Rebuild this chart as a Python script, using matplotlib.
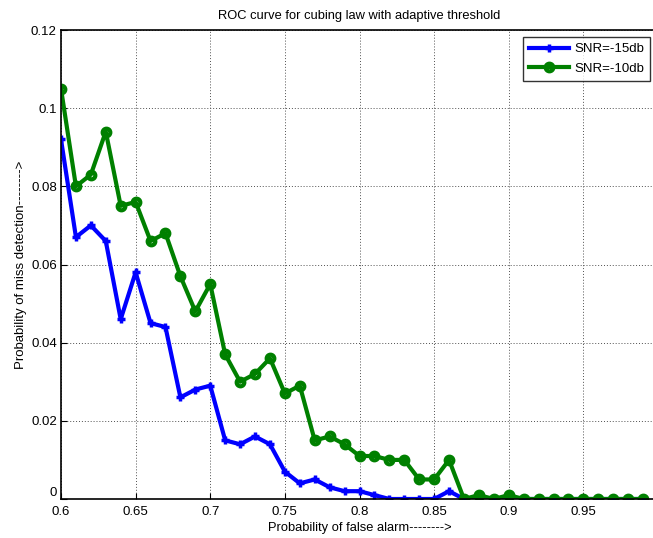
import numpy as np
import matplotlib
matplotlib.use('Agg')
import matplotlib.pyplot as plt

pfa = [round(0.60 + 0.01 * i, 2) for i in range(40)]

pm_15db = [0.092, 0.067, 0.070, 0.066, 0.046, 0.058, 0.045, 0.044, 0.026, 0.028,
           0.029, 0.015, 0.014, 0.016, 0.014, 0.007, 0.004, 0.005, 0.003, 0.002,
           0.002, 0.001, 0.000, 0.000, 0.000, 0.000, 0.002, 0.000, 0.000, 0.000,
           0.000, 0.000, 0.000, 0.000, 0.000, 0.000, 0.000, 0.000, 0.000, 0.000]

pm_10db = [0.105, 0.080, 0.083, 0.094, 0.075, 0.076, 0.066, 0.068, 0.057, 0.048,
           0.055, 0.037, 0.030, 0.032, 0.036, 0.027, 0.029, 0.015, 0.016, 0.014,
           0.011, 0.011, 0.010, 0.010, 0.005, 0.005, 0.010, 0.000, 0.001, 0.000,
           0.001, 0.000, 0.000, 0.000, 0.000, 0.000, 0.000, 0.000, 0.000, 0.000]

xticks = [0.6, 0.65, 0.7, 0.75, 0.8, 0.85, 0.9, 0.95]
xticklabels = ['0.6', '0.65', '0.7', '0.75', '0.8', '0.85', '0.9', '0.95']
yticks = [0, 0.02, 0.04, 0.06, 0.08, 0.1, 0.12]
yticklabels = ['0', '0.02', '0.04', '0.06', '0.08', '0.1', '0.12']

plt.rcParams['font.family'] = ['Liberation Sans', 'DejaVu Sans']

W, H = 653, 538
fig = plt.figure(figsize=(W / 100, H / 100), dpi=100)
# axes runs a little past the right edge, like the cropped original
ax = fig.add_axes([61 / W, (H - 499) / H, 597 / W, 469 / H])

ax.plot(pfa, pm_15db, '-+', color='#0000ff', lw=3, ms=5.5, mew=2.5, label='SNR=-15db')
ax.plot(pfa, pm_10db, '-o', color='#008000', lw=3, ms=5.5, mew=3, mfc='none',
        label='SNR=-10db')

ax.set_xlim(0.6, 1.0)
ax.set_ylim(0, 0.12)
ax.set_xticks(xticks)
ax.set_xticklabels(xticklabels)
ax.set_yticks(yticks)
ax.set_yticklabels(yticklabels)
ax.tick_params(direction='in', labelsize=9.5, length=4, pad=3)
ax.tick_params(axis='x', pad=5)
ax.get_yticklabels()[0].set_va('bottom')
ax.grid(True, color='#505050', ls=(0, (1, 2)), lw=0.7)
for s in ax.spines.values():
    s.set_linewidth(1.2)

ax.set_title('ROC curve for cubing law with adaptive threshold', fontsize=9.3, pad=8)
ax.set_xlabel('Probability of false alarm-------->', fontsize=9.3, labelpad=3)
ax.set_ylabel('Probability of miss detection-------->', fontsize=9.5, labelpad=3)

leg = ax.legend(loc='upper right', bbox_to_anchor=(650 / W, (H - 37) / H),
                bbox_transform=fig.transFigure, fontsize=9.5, frameon=True,
                fancybox=False, edgecolor='black', handlelength=3.0,
                borderpad=0.45, labelspacing=0.55, handletextpad=0.4, borderaxespad=0)
leg.get_frame().set_linewidth(1)

fig.savefig('out.png', dpi=100)
